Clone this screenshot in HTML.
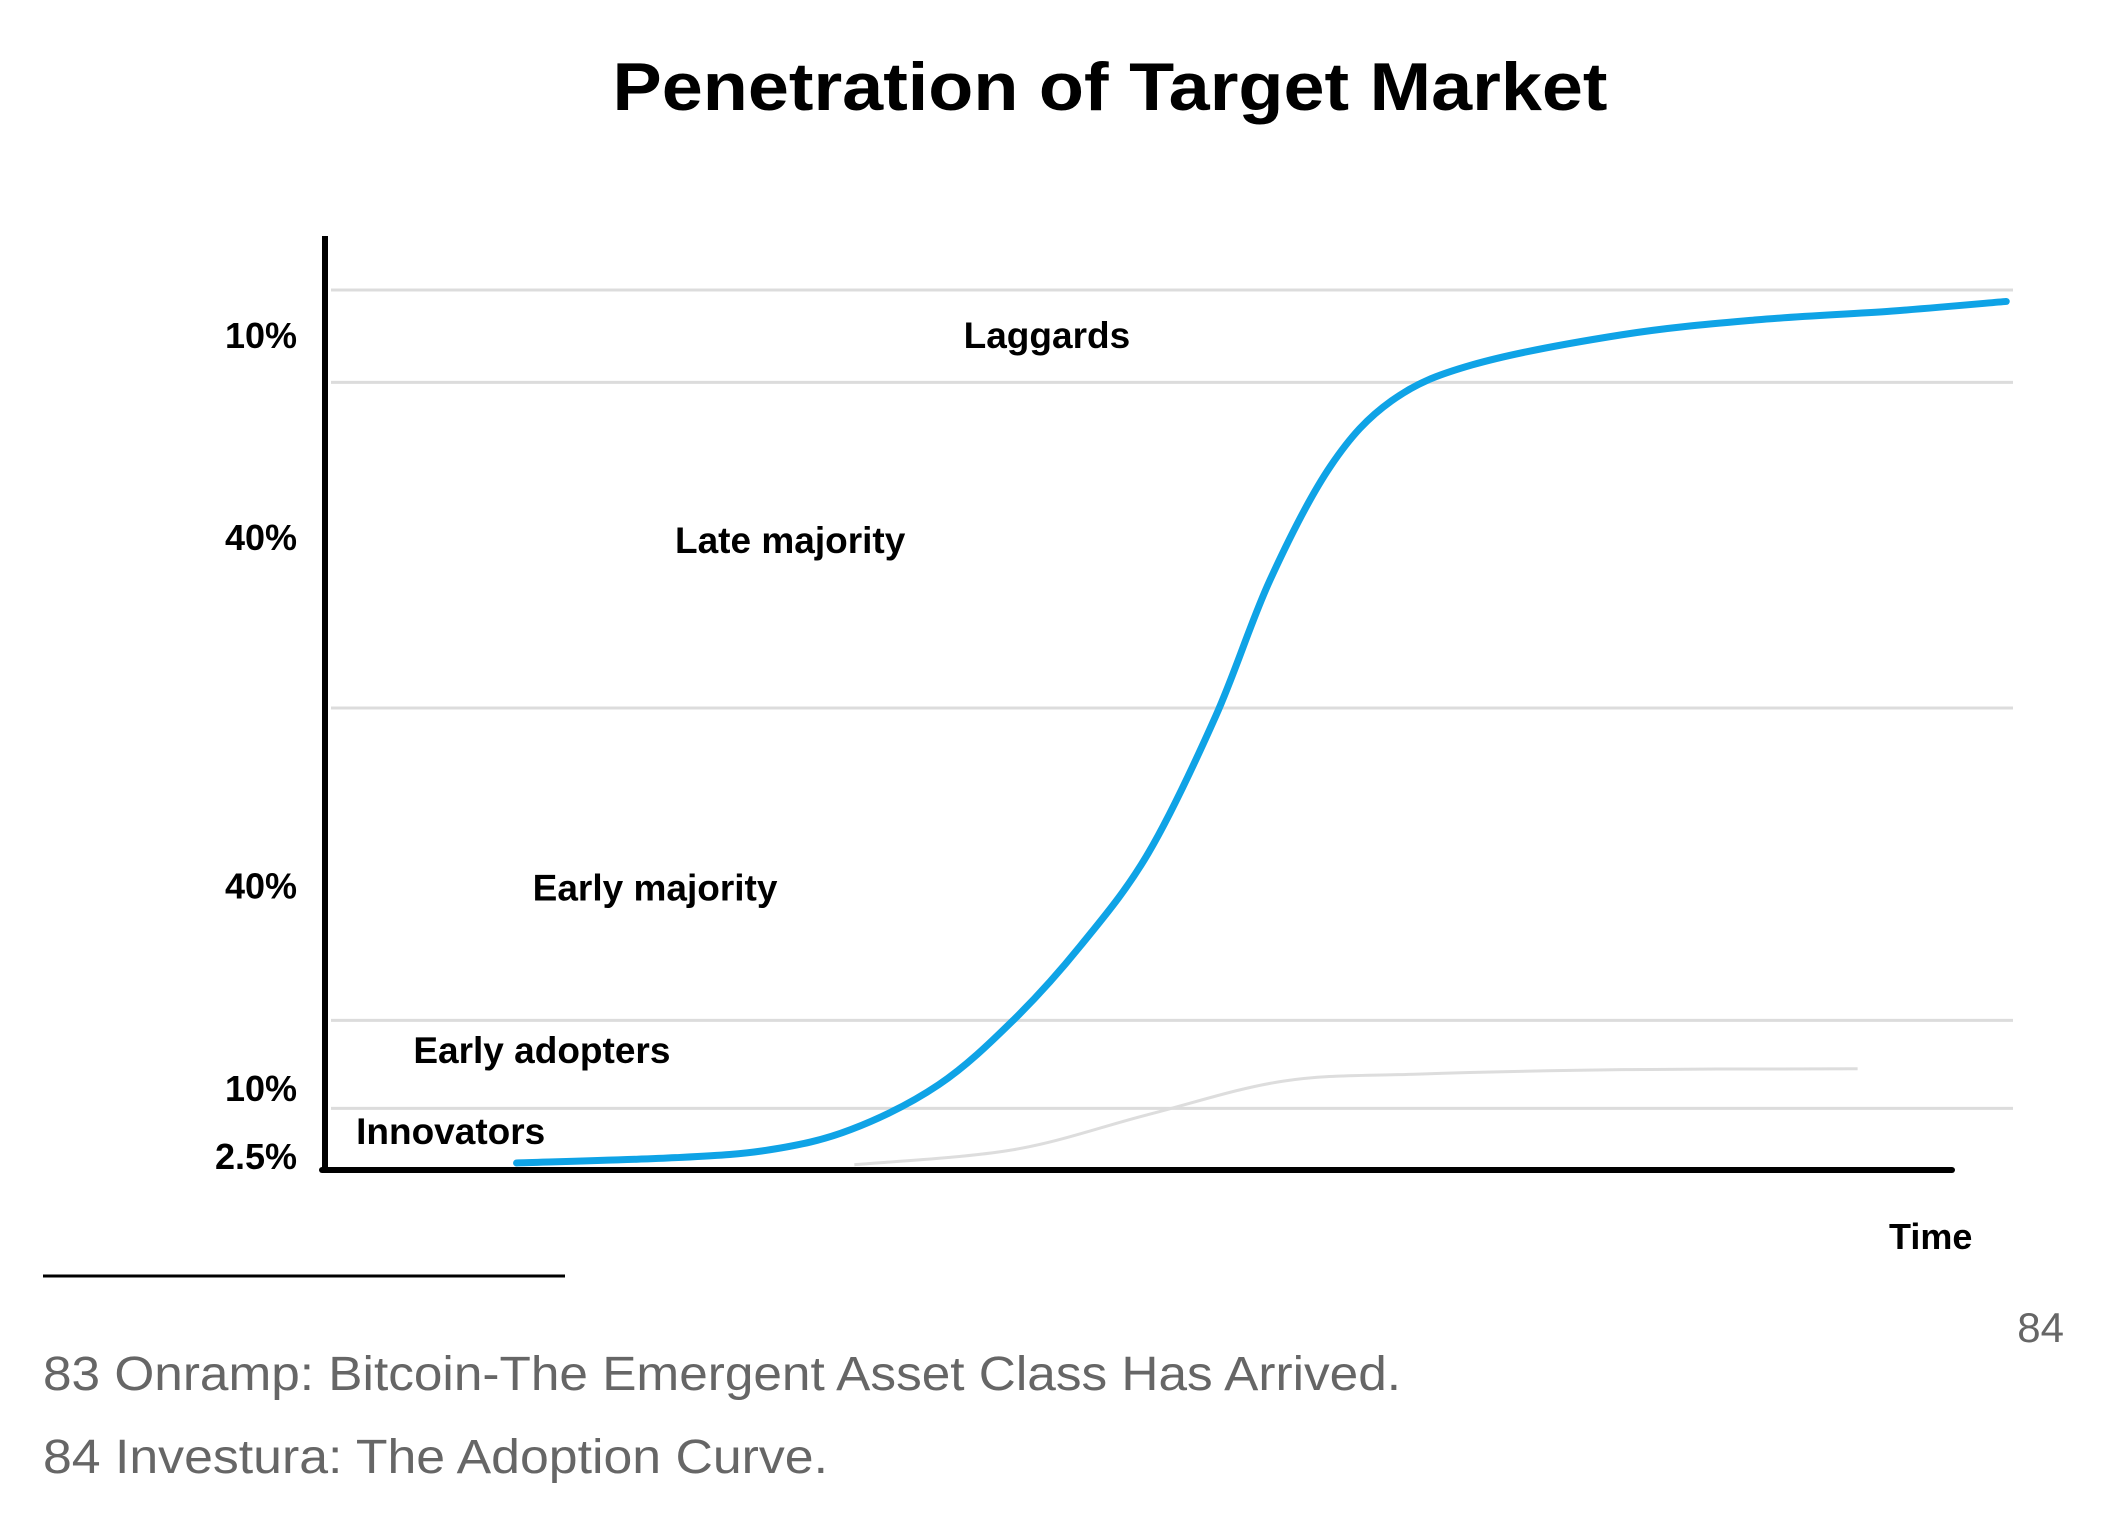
<!DOCTYPE html>
<html><head><meta charset="utf-8"><style>
html,body{margin:0;padding:0;background:#fff;}
svg{display:block;font-family:"Liberation Sans",sans-serif;}
</style></head><body>
<svg id="chart" width="2108" height="1514" viewBox="0 0 2108 1514" xmlns="http://www.w3.org/2000/svg">
<text x="1110" y="110" text-anchor="middle" font-size="68" font-weight="bold" fill="#000" textLength="995" lengthAdjust="spacingAndGlyphs">Penetration of Target Market</text>
<g id="grid"></g>
<g id="series"></g>
<g id="bands"></g>
<g id="ylabels"></g>
<line x1="325" y1="236" x2="325" y2="1172" stroke="#000" stroke-width="6"/>
<line x1="322" y1="1170" x2="1952" y2="1170" stroke="#000" stroke-width="6" stroke-linecap="round"/>
<text x="1889" y="1249" font-size="36" font-weight="bold">Time</text>
<line x1="43" y1="1276" x2="565" y2="1276" stroke="#000" stroke-width="3"/>
<text x="2064" y="1342" text-anchor="end" font-size="42" fill="#666">84</text>
<text x="43" y="1390" font-size="48" fill="#666" textLength="1358" lengthAdjust="spacingAndGlyphs">83  Onramp: Bitcoin-The Emergent Asset Class Has Arrived.</text>
<text x="43" y="1473" font-size="48" fill="#666" textLength="785" lengthAdjust="spacingAndGlyphs">84  Investura: The Adoption Curve.</text>
</svg>
<script>
const gridLevels = [100, 89.5, 52.5, 17, 7];
const yTickLabels = ["10%", "40%", "40%", "10%", "2.5%"];
const yTickPos = [94.8, 71.8, 32.2, 9.2, 1.5];
const bandNames = ["Laggards", "Late majority", "Early majority", "Early adopters", "Innovators"];
const bandX = [42.8, 27.6, 19.6, 12.9, 7.5];
const bandY = [94.8, 71.5, 32, 13.5, 4.3];
const adoptX = [11.4, 20.8, 26.4, 31.2, 36.4, 40.8, 44.8, 48.8, 52.8, 56, 59.6, 63.2, 68, 76.8, 84.8, 92.8, 99.6];
const adoptY = [0.8, 1.4, 2.3, 4.6, 9.7, 17, 25.5, 36, 51.6, 67, 80, 87.4, 91.5, 94.9, 96.6, 97.6, 98.7];
const grayX = [31.4, 40.8, 48.8, 56.8, 64.8, 76.8, 90.8];
const grayY = [0.6, 2.3, 6.3, 10.1, 10.9, 11.4, 11.5];

const NS = "http://www.w3.org/2000/svg";
const X0 = 324, X1 = 2013, Y0 = 1170, Y1 = 290;
function xs(v){ return X0 + (X1 - X0) * v / 100; }
function ys(v){ return Y0 - (Y0 - Y1) * v / 100; }
function mk(tag, attrs, parent){
  const e = document.createElementNS(NS, tag);
  for (const k in attrs) e.setAttribute(k, attrs[k]);
  parent.appendChild(e); return e;
}
const grid = document.getElementById('grid');
gridLevels.forEach(g => {
  const l = mk('line', {x1: 331, x2: 2013, y1: ys(g), y2: ys(g), stroke: '#dcdcdc', 'stroke-width': 3}, grid);
  
  
});
const yl = document.getElementById('ylabels');
yTickLabels.forEach((t, i) => {
  const e = mk('text', {x: 297, y: ys(yTickPos[i]) + 12, 'text-anchor': 'end', 'font-size': 36, 'font-weight': 'bold'}, yl);
  e.textContent = t;
  
  
});
const bl = document.getElementById('bands');
bandNames.forEach((t, i) => {
  const e = mk('text', {x: xs(bandX[i]), y: ys(bandY[i]) + 12, 'text-anchor': 'middle', 'font-size': 37, 'font-weight': 'bold'}, bl);
  e.textContent = t;
  
  
});
function smooth(xa, ya){
  const p = xa.map((x, i) => [xs(x), ys(ya[i])]);
  let d = 'M' + p[0][0] + ',' + p[0][1];
  for (let i = 0; i < p.length - 1; i++){
    const a = p[Math.max(0, i-1)], b = p[i], c = p[i+1], e = p[Math.min(p.length-1, i+2)];
    const c1 = [b[0] + (c[0]-a[0])/6, b[1] + (c[1]-a[1])/6];
    const c2 = [c[0] - (e[0]-b[0])/6, c[1] - (e[1]-b[1])/6];
    d += ' C' + c1.join(',') + ' ' + c2.join(',') + ' ' + c.join(',');
  }
  return d;
}
const s = document.getElementById('series');
const gp = mk('path', {d: smooth(grayX, grayY), fill: 'none', stroke: '#dddddd', 'stroke-width': 3}, s);


const bp = mk('path', {d: smooth(adoptX, adoptY), fill: 'none', stroke: '#0fa3e6', 'stroke-width': 7, 'stroke-linecap': 'round'}, s);


</script>
</body></html>
